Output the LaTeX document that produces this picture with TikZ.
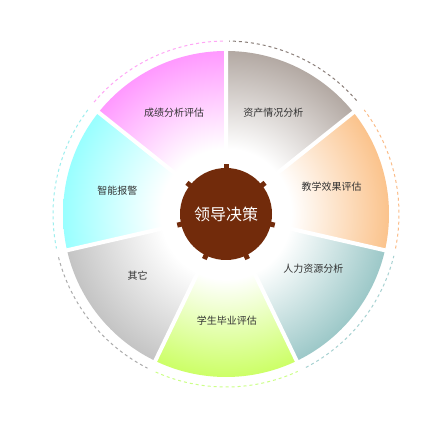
\documentclass[tikz,border=0pt]{standalone}
\usepackage{fontspec}
\newfontfamily\cjk{Noto Sans CJK SC}
\usepackage{xcolor}
\usepackage{tikz}
\usetikzlibrary{positioning}

\definecolor{hubbrown}{HTML}{722B0B}
\definecolor{labelgray}{HTML}{333333}
\definecolor{pinkseg}{HTML}{FF99FF}
\definecolor{cyanseg}{HTML}{99FFFF}
\definecolor{grayseg}{HTML}{C4C4C4}
\definecolor{greenseg}{HTML}{CCFF66}
\definecolor{tealseg}{HTML}{9CC8C8}
\definecolor{orangeseg}{HTML}{FBC38C}
\definecolor{stoneseg}{HTML}{B3A9A3}
\definecolor{pinkdash}{HTML}{FFA6F6}
\definecolor{cyandash}{HTML}{9DEEEE}
\definecolor{graydash}{HTML}{ABABAB}
\definecolor{greendash}{HTML}{CCFF88}
\definecolor{tealdash}{HTML}{A8D2D2}
\definecolor{orangedash}{HTML}{FBBC88}
\definecolor{stonedash}{HTML}{8A7E79}

\pgfdeclareradialshading{pinkfade}{\pgfpoint{0bp}{0bp}}{color(0bp)=(white); color(10bp)=(white); color(25bp)=(pinkseg); color(50bp)=(pinkseg)}
\pgfdeclareradialshading{cyanfade}{\pgfpoint{0bp}{0bp}}{color(0bp)=(white); color(10bp)=(white); color(25bp)=(cyanseg); color(50bp)=(cyanseg)}
\pgfdeclareradialshading{grayfade}{\pgfpoint{0bp}{0bp}}{color(0bp)=(white); color(10bp)=(white); color(25bp)=(grayseg); color(50bp)=(grayseg)}
\pgfdeclareradialshading{greenfade}{\pgfpoint{0bp}{0bp}}{color(0bp)=(white); color(10bp)=(white); color(25bp)=(greenseg); color(50bp)=(greenseg)}
\pgfdeclareradialshading{tealfade}{\pgfpoint{0bp}{0bp}}{color(0bp)=(white); color(10bp)=(white); color(25bp)=(tealseg); color(50bp)=(tealseg)}
\pgfdeclareradialshading{orangefade}{\pgfpoint{0bp}{0bp}}{color(0bp)=(white); color(10bp)=(white); color(25bp)=(orangeseg); color(50bp)=(orangeseg)}
\pgfdeclareradialshading{stonefade}{\pgfpoint{0bp}{0bp}}{color(0bp)=(white); color(10bp)=(white); color(25bp)=(stoneseg); color(50bp)=(stoneseg)}

\tikzset{
  seglabel/.style={font=\cjk\fontsize{10pt}{12pt}\selectfont, text=labelgray, inner sep=1pt},
  hublabel/.style={font=\cjk\fontsize{16pt}{18pt}\selectfont, text=white, inner sep=0pt},
  gapline/.style={white, line width=4pt},
  ringdash/.style={line width=1pt, dash pattern=on 3pt off 3pt}
}

\begin{document}
\begin{tikzpicture}[x=1pt,y=1pt]
		\useasboundingbox (0,0) rectangle (440,434);
		\fill[white] (0,0) rectangle (440,434);
		%
		\begin{scope}[shift={(226,220)}]
		% wedges
		\begin{scope}
		\clip (0,0) -- (90:170pt) arc (90:141.43:170pt) -- cycle;
		\shade[shading=pinkfade] (0,0) circle (163pt);
		\end{scope}
		\begin{scope}
		\clip (0,0) -- (141.43:170pt) arc (141.43:192.86:170pt) -- cycle;
		\shade[shading=cyanfade] (0,0) circle (163pt);
		\end{scope}
		\begin{scope}
		\clip (0,0) -- (192.86:170pt) arc (192.86:244.29:170pt) -- cycle;
		\shade[shading=grayfade] (0,0) circle (163pt);
		\end{scope}
		\begin{scope}
		\clip (0,0) -- (244.29:170pt) arc (244.29:295.71:170pt) -- cycle;
		\shade[shading=greenfade] (0,0) circle (163pt);
		\end{scope}
		\begin{scope}
		\clip (0,0) -- (295.71:170pt) arc (295.71:347.14:170pt) -- cycle;
		\shade[shading=tealfade] (0,0) circle (163pt);
		\end{scope}
		\begin{scope}
		\clip (0,0) -- (-12.86:170pt) arc (-12.86:38.57:170pt) -- cycle;
		\shade[shading=orangefade] (0,0) circle (163pt);
		\end{scope}
		\begin{scope}
		\clip (0,0) -- (38.57:170pt) arc (38.57:90:170pt) -- cycle;
		\shade[shading=stonefade] (0,0) circle (163pt);
		\end{scope}
		%
		\draw[gapline] (0,0) -- (90:166pt) (0,0) -- (141.43:166pt)
		(0,0) -- (192.86:166pt) (0,0) -- (244.29:166pt)
		(0,0) -- (295.71:166pt) (0,0) -- (347.14:166pt)
		(0,0) -- (38.57:166pt);
		%
		% dashed ring
		\draw[ringdash, pinkdash] (91:173pt) arc (91:140:173pt);
		\draw[ringdash, cyandash] (143:173pt) arc (143:191.5:173pt);
		\draw[ringdash, graydash] (194.5:173pt) arc (194.5:243:173pt);
		\draw[ringdash, greendash] (246:173pt) arc (246:294.5:173pt);
		\draw[ringdash, tealdash] (297.5:173pt) arc (297.5:346:173pt);
		\draw[ringdash, orangedash] (-11.5:173pt) arc (-11.5:37:173pt);
		\draw[ringdash, stonedash] (41:173pt) arc (41:89:173pt);
		%
		% hub
		\fill[hubbrown] (0,0) circle (46pt);
		\fill[hubbrown, rotate=90] (44pt,-2.5pt) rectangle (50pt,2.5pt);
		\fill[hubbrown, rotate=141.43] (44pt,-2.5pt) rectangle (50pt,2.5pt);
		\fill[hubbrown, rotate=192.86] (44pt,-2.5pt) rectangle (50pt,2.5pt);
		\fill[hubbrown, rotate=244.29] (44pt,-2.5pt) rectangle (50pt,2.5pt);
		\fill[hubbrown, rotate=295.71] (44pt,-2.5pt) rectangle (50pt,2.5pt);
		\fill[hubbrown, rotate=347.14] (44pt,-2.5pt) rectangle (50pt,2.5pt);
		\fill[hubbrown, rotate=38.57] (44pt,-2.5pt) rectangle (50pt,2.5pt);
		\node[hublabel] (hub) at (0,0) {领导决策};
		%
		\node[seglabel] (grades) at (117:114pt) {成绩分析评估};
		\node[seglabel] (alarm) at (168:111pt) {智能报警};
		\node[seglabel] (other) at (215:108pt) {其它};
		\node[seglabel] (gradu) at (270.5:107pt) {学生毕业评估};
		\node[seglabel] (staff) at (328:103pt) {人力资源分析};
		\node[seglabel] (teach) at (14.3:109pt) {教学效果评估};
		\node[seglabel] (assets) at (65:112pt) {资产情况分析};
		\end{scope}
		\end{tikzpicture}
\end{document}
